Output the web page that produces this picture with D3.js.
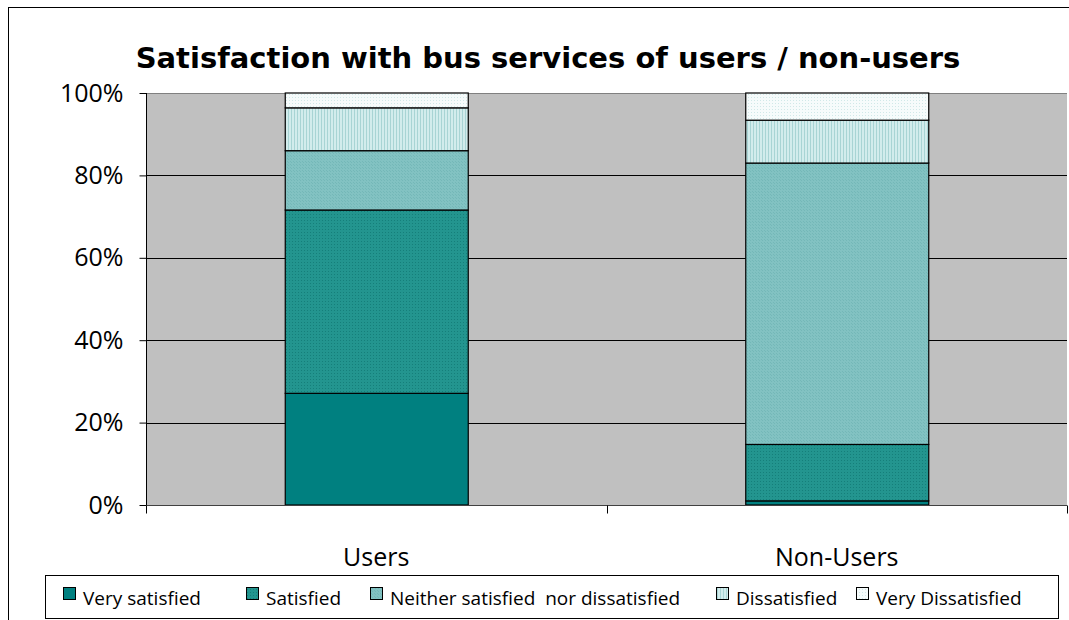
<!DOCTYPE html>
<html><head><meta charset="utf-8">
<script src="https://cdn.jsdelivr.net/npm/d3@7"></script>
<style>body{margin:0;background:#fff}svg{display:block}</style>
</head><body>
<svg id="c" width="1069" height="620"></svg>
<script>
const categories = ["Users", "Non-Users"];
const seriesNames = ["Very satisfied", "Satisfied", "Neither satisfied  nor dissatisfied", "Dissatisfied", "Very Dissatisfied"];
const veryS = [27.1, 1.0];
const sat = [44.5, 13.7];
const neither = [14.4, 68.3];
const dissat = [10.4, 10.4];
const veryD = [3.6, 6.6];
const yTicks = [0, 20, 40, 60, 80, 100];
const seriesValues = [veryS, sat, neither, dissat, veryD];

const FONT = "'Open Sans', Lato, sans-serif";
const svg = d3.select("#c");
const defs = svg.append("defs");
function pat(id, bg, fg, type){
  const p = defs.append("pattern").attr("id", id).attr("patternUnits","userSpaceOnUse").attr("width",3).attr("height",3);
  p.append("rect").attr("width",3).attr("height",3).attr("fill",bg);
  if(type==="dot"){ p.append("rect").attr("x",1).attr("y",1).attr("width",1).attr("height",1).attr("fill",fg); }
  if(type==="vstripe"){ p.append("rect").attr("x",0).attr("y",0).attr("width",1).attr("height",3).attr("fill",fg); }
  if(type==="dot2"){ p.append("rect").attr("x",0).attr("y",0).attr("width",1).attr("height",1).attr("fill",fg);
                     p.append("rect").attr("x",2).attr("y",2).attr("width",1).attr("height",1).attr("fill",fg); }
  return "url(#"+id+")";
}
const fills = [
  "#008080",
  pat("p1", "#23958f", "#157f7a", "dot"),
  pat("p2", "#82c2c2", "#74b8b8", "dot2"),
  pat("p3", "#d2ecec", "#a8d4d4", "vstripe"),
  pat("p4", "#f6fbfb", "#d0e8e8", "dot")
];

svg.append("rect").attr("x",8.5).attr("y",7.5).attr("width",1080).attr("height",640).attr("fill","#fff").attr("stroke","#000").attr("stroke-width",1);

const L = 146, R = 1067, T = 93, B = 505;
const xb = d3.scaleBand().domain(categories).range([L, R]);
const y = d3.scaleLinear().domain([0, 100]).range([B, T]);

svg.append("rect").attr("x",L).attr("y",T).attr("width",R-L).attr("height",B-T).attr("fill","#c0c0c0");
svg.append("g").selectAll("line").data(yTicks.filter(d=>d>0&&d<100)).join("line")
  .attr("x1",L).attr("x2",R).attr("y1",d=>Math.round(y(d))+0.5).attr("y2",d=>Math.round(y(d))+0.5)
  .attr("stroke","#000").attr("stroke-width",1);
svg.append("line").attr("x1",L).attr("x2",R).attr("y1",T+0.5).attr("y2",T+0.5).attr("stroke","#808080");

const table = categories.map((c,i)=>{const o={cat:c}; seriesNames.forEach((s,j)=>o[s]=seriesValues[j][i]); return o;});
const stack = d3.stack().keys(seriesNames)(table);
const bw = 183;
stack.forEach((layer, j)=>{
  svg.append("g").selectAll("rect").data(layer).join("rect")
    .attr("x", d=> xb(d.data.cat) + xb.bandwidth()/2 - bw/2 + 0.5)
    .attr("width", bw)
    .attr("y", d=> y(d[1]))
    .attr("height", d=> y(d[0]) - y(d[1]))
    .attr("fill", fills[j]).attr("stroke","#000").attr("stroke-width",1.2);
});

const yAxis = d3.axisLeft(y).tickValues(yTicks).tickFormat(d=>d+"%").tickSize(7).tickPadding(16);
const gy = svg.append("g").attr("transform",`translate(${L+0.5},0)`).call(yAxis);
gy.select(".domain").attr("stroke","#000").attr("d",`M0,${T}V${B}`);
gy.selectAll("text").attr("font-family",FONT).attr("font-size",25).attr("fill","#000");

const gx = svg.append("g").attr("transform",`translate(0,${B+0.5})`);
gx.append("line").attr("x1",L).attr("x2",R).attr("stroke","#404040");
const tickX = [L, (L+R)/2, R];
gx.selectAll("line.t").data(tickX).join("line").attr("class","t")
  .attr("x1",d=>Math.round(d)+0.5).attr("x2",d=>Math.round(d)+0.5).attr("y1",0).attr("y2",8).attr("stroke","#000");
gx.selectAll("text").data(categories).join("text")
  .attr("x", d=> xb(d)+xb.bandwidth()/2).attr("y", 60)
  .attr("text-anchor","middle").attr("font-family",FONT).attr("font-size",25).text(d=>d);

svg.append("text").attr("x",548).attr("y",68).attr("text-anchor","middle")
  .attr("font-family","'DejaVu Sans', sans-serif").attr("font-weight","bold").attr("font-size",29)
  .text("Satisfaction with bus services of users / non-users");

const lg = svg.append("g");
lg.append("rect").attr("x",45.5).attr("y",575.5).attr("width",1013).attr("height",43).attr("fill","#fff").attr("stroke","#000");
const legX = [63, 246, 370, 716, 856];
seriesNames.forEach((s,j)=>{
  lg.append("rect").attr("x",legX[j]+0.5).attr("y",587.5).attr("width",12).attr("height",12).attr("fill",fills[j]).attr("stroke","#000");
  lg.append("text").attr("x",legX[j]+20).attr("y",605).attr("font-family",FONT).attr("font-size",19)
    .attr("xml:space","preserve").style("white-space","pre").text(s);
});
</script>
</body></html>
